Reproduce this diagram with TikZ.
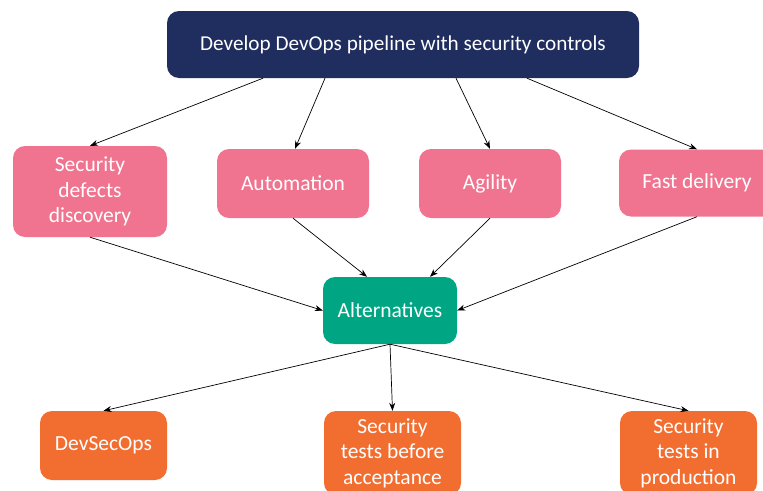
\documentclass[tikz,border=0pt]{standalone}
\usepackage{fontspec}
\setmainfont{Carlito}
\usetikzlibrary{arrows.meta}
\definecolor{navy}{HTML}{1F2D5F}
\definecolor{pinkc}{HTML}{F0738F}
\definecolor{greenc}{HTML}{00A683}
\definecolor{orangec}{HTML}{F26D30}
\begin{document}
\begin{tikzpicture}[x=1pt,y=-1pt,
  box/.style={rounded corners=12pt, inner sep=0pt, text=white, align=center},
  topbox/.style={box, fill=navy, font=\fontsize{21.2}{25}\selectfont},
  pinkbox/.style={box, fill=pinkc, font=\fontsize{21.5}{25.5}\selectfont},
  greenbox/.style={box, fill=greenc, font=\fontsize{21.5}{25.5}\selectfont},
  orangebox/.style={box, fill=orangec, font=\fontsize{21.5}{25.5}\selectfont},
  arr/.style={-{Stealth[length=8pt,width=6pt]}, line width=0.7pt, black}]
\useasboundingbox (0,0) rectangle (763,490);
\clip (0,0) rectangle (763,490);
\fill[white] (0,0) rectangle (763,490);
\node[topbox, minimum width=472pt, minimum height=67pt] (top) at (403,44.5) {Develop DevOps pipeline with security controls};
\node[pinkbox, minimum width=154pt, minimum height=91pt] (sdd) at (90,191.5) {Security\\defects\\discovery};
\node[pinkbox, minimum width=152pt, minimum height=69pt] (auto) at (293,183.5) {Automation};
\node[pinkbox, minimum width=142pt, minimum height=69pt] (agil) at (490,183.5) {Agility};
\node[pinkbox, minimum width=156pt, minimum height=67pt] (fast) at (697,183) {Fast delivery};
\node[greenbox, minimum width=134pt, minimum height=67pt] (alt) at (390,310.5) {Alternatives};
\node[orangebox, minimum width=127pt, minimum height=69pt] (dso) at (103.5,445.5) {DevSecOps};
\node[orangebox, minimum width=137pt, minimum height=84pt] (stba) at (392.5,453) {Security\\tests before\\acceptance};
\node[orangebox, minimum width=137pt, minimum height=84pt] (stip) at (688.5,453) {Security\\tests in\\production};
\draw[arr] ([xshift=-140pt]top.south) -- (sdd.north);
\draw[arr] ([xshift=-78pt]top.south) -- ([xshift=2pt]auto.north);
\draw[arr] ([xshift=53pt]top.south) -- (agil.north);
\draw[arr] ([xshift=124pt]top.south) -- (fast.north);
\draw[arr] (sdd.south) -- (alt.west);
\draw[arr] (auto.south) -- ([xshift=-23pt]alt.north);
\draw[arr] (agil.south) -- ([xshift=40pt]alt.north);
\draw[arr] (fast.south) -- (alt.east);
\draw[arr] (alt.south) -- (dso.north);
\draw[arr] (alt.south) -- (stba.north);
\draw[arr] (alt.south) -- (stip.north);
\end{tikzpicture}
\end{document}
